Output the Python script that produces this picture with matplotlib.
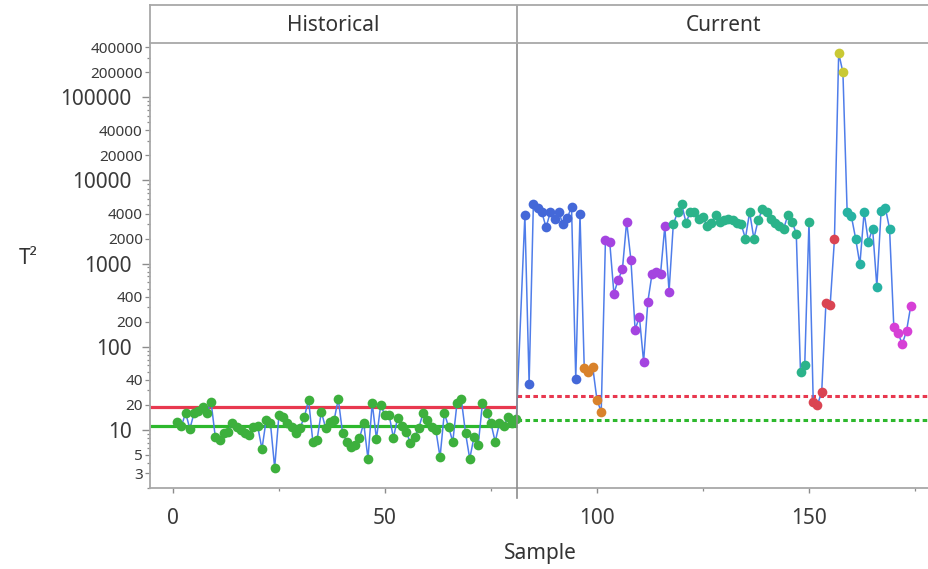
import matplotlib
matplotlib.use('Agg')
import matplotlib.pyplot as plt
from matplotlib.ticker import FixedLocator, FuncFormatter
import numpy as np

plt.rcParams['font.family'] = ['Noto Sans', 'DejaVu Sans']

# ---------------- data ----------------
hist_values = [12.4, 11.1, 16, 10.3, 16, 17, 19, 16, 21.7, 8.2,
               7.6, 9.2, 9.5, 12, 10.9, 10, 9.2, 8.7, 10.9, 11,
               5.9, 13.2, 12, 3.5, 15, 14.3, 12, 10.9, 9.2, 10.6,
               14.3, 23, 7.2, 7.6, 16.5, 10.6, 12.5, 13, 23.6, 9.2,
               7.2, 6.2, 6.5, 8, 12, 4.5, 21, 7.8, 20, 15,
               15, 8, 14, 11, 9.5, 7, 8.2, 10.6, 16, 13.2,
               10.9, 10, 4.7, 16, 10.9, 7.2, 21, 23.6, 9.2, 4.5,
               8.2, 6.6, 21, 16, 12, 7.2, 12, 11, 14.3, 12, 13.5]
curr_start = 83
curr_values = [3800, 36, 5140, 4700, 4150, 2730, 4150, 3400, 4150, 2960,
               3500, 4850, 41, 3900,
               56, 49, 57, 23, 16.5,
               1900, 1840, 435, 640, 850, 3200, 1120, 160, 230, 66,
               350, 760, 800, 760, 2800, 460,
               2960, 4150, 5140, 3100, 4150, 4200, 3400, 3600, 2800, 3100,
               3800, 3200, 3300, 3400, 3300, 3100, 3000, 2000, 4150, 2000,
               3300, 4500, 4150, 3400, 3100, 2800, 2600, 3800, 3200, 2300,
               49, 61, 3200,
               21.7, 20, 28.8, 340, 320, 1950,
               340000, 200000,
               4150, 3700, 2000, 980, 4150, 1840, 2630, 530, 4250, 4700, 2630,
               175, 145, 108, 155, 310]
curr_cluster = (['blue'] * 14 + ['orange'] * 5 + ['purple'] * 16 +
                ['teal'] * 33 + ['red'] * 6 + ['yellow'] * 2 +
                ['cyan'] * 11 + ['magenta'] * 5)
cluster_colors = {'blue': '#4468D8', 'orange': '#D9822B', 'purple': '#A444E0',
                  'teal': '#2BB38A', 'red': '#DA4452', 'yellow': '#C9C935',
                  'cyan': '#27B2A2', 'magenta': '#D640D6'}
hist_ucl, hist_center = 19.0, 11.2
curr_ucl, curr_center = 25.7, 13.2
phase_names = ['Historical', 'Current']
divider = 81.2

major_yticks = [10, 100, 1000, 10000, 100000]
labeled_minor = [3, 5, 20, 40, 200, 400, 2000, 4000, 20000, 40000, 200000, 400000]
xticks_major = [0, 50, 100, 150]
xticks_minor = [25, 75, 125, 175]

# ---------------- figure ----------------
W, H = 929, 569
fig = plt.figure(figsize=(W / 100, H / 100), dpi=100)
L, R, B, T = 150, 929, 488, 43
ax = fig.add_axes([L / W, 1 - B / H, (R - L) / W, (B - T) / H])
hax = fig.add_axes([L / W, 1 - T / H, (R - L) / W, (T - 5) / H])

xmin, xmax = -5.4, 178.3
ax.set_xlim(xmin, xmax)
hax.set_xlim(xmin, xmax)
hax.set_ylim(0, 1)

hist_x = np.arange(1, len(hist_values) + 1)
curr_x = np.arange(curr_start, curr_start + len(curr_values))
all_x = np.concatenate([hist_x, curr_x])
all_v = np.concatenate([hist_values, curr_values])

ax.plot(all_x, all_v, color='#4F7DEA', lw=1.1, zorder=3)

# limits
ax.hlines(hist_ucl, xmin, divider, color='#E8384F', lw=2.3, zorder=2)
ax.hlines(hist_center, xmin, divider, color='#2DB82D', lw=2.3, zorder=2)
ax.hlines(curr_ucl, divider, xmax, color='#E8384F', lw=2.2,
          linestyles=[(0, (1.5, 1.1))], zorder=2)
ax.hlines(curr_center, divider, xmax, color='#2DB82D', lw=2.2,
          linestyles=[(0, (1.5, 1.1))], zorder=2)

# markers
ax.plot(hist_x, hist_values, 'o', ls='none', color='#3DB03D', ms=7.0,
        mec='none', zorder=4)
cc = np.array(curr_cluster)
cv = np.array(curr_values)
for name, col in cluster_colors.items():
    m = cc == name
    ax.plot(curr_x[m], cv[m], 'o', ls='none', color=col, ms=7.0,
            mec='none', zorder=4)

# divider
ax.plot([divider, divider], [-0.0225, 1], transform=ax.get_xaxis_transform(),
        color='#8C8C8C', lw=1.2, clip_on=False, zorder=5)
hax.axvline(divider, color='#A0A0A0', lw=1.3)

# y axis
ax.set_yscale('log')
ax.set_ylim(2.0, 4.5e5)
minor_locs = []
for e in range(0, 6):
    for k in range(2, 10):
        v = k * 10 ** e
        if 2 <= v <= 4.5e5:
            minor_locs.append(v)
ax.yaxis.set_major_locator(FixedLocator(major_yticks))
ax.yaxis.set_major_formatter(FuncFormatter(lambda v, p: '%d' % round(v)))
ax.yaxis.set_minor_locator(FixedLocator(minor_locs))
lab_set = set(labeled_minor)
ax.yaxis.set_minor_formatter(
    FuncFormatter(lambda v, p: ('%d' % round(v)) if round(v) in lab_set else ''))
ax.tick_params(axis='y', which='major', length=5.8, width=1.0, pad=7.5,
               labelsize=15, color='#8C8C8C', labelcolor='#3A3A3A')
ax.tick_params(axis='y', which='minor', length=2.2, width=0.9, pad=3,
               labelsize=11, color='#8C8C8C', labelcolor='#3A3A3A')

# x axis
ax.set_xticks(xticks_major)
ax.set_xticks(xticks_minor, minor=True)
ax.tick_params(axis='x', which='major', length=3.6, width=1.0, pad=10.5,
               labelsize=15, color='#8C8C8C', labelcolor='#3A3A3A')
ax.tick_params(axis='x', which='minor', length=2.2, width=0.9,
               color='#8C8C8C')

for s in ['top', 'right']:
    ax.spines[s].set_visible(False)
for s in ['left', 'bottom']:
    ax.spines[s].set_color('#A8A8A8')
    ax.spines[s].set_linewidth(1.3)

hax.set_xticks([])
hax.set_yticks([])
hax.spines['right'].set_visible(False)
for s in ['left', 'top', 'bottom']:
    hax.spines[s].set_color('#A8A8A8')
    hax.spines[s].set_linewidth(1.3)
hax.text((xmin + divider) / 2, 0.45, phase_names[0], ha='center', va='center',
         fontsize=15, color='#333333')
hax.text((divider + xmax) / 2, 0.45, phase_names[1], ha='center', va='center',
         fontsize=15, color='#333333')

fig.text(540 / W, 1 - 553 / H, 'Sample', ha='center', va='center',
         fontsize=15, color='#333333')
fig.text(28 / W, 1 - 258 / H, 'T²', ha='center', va='center',
         fontsize=15, color='#333333')

fig.canvas.draw()
for t in ax.yaxis.get_minor_ticks():
    v = t.get_loc()
    if round(v) in lab_set:
        t.tick1line.set_markersize(3.6)

fig.savefig('out.png', dpi=100)
